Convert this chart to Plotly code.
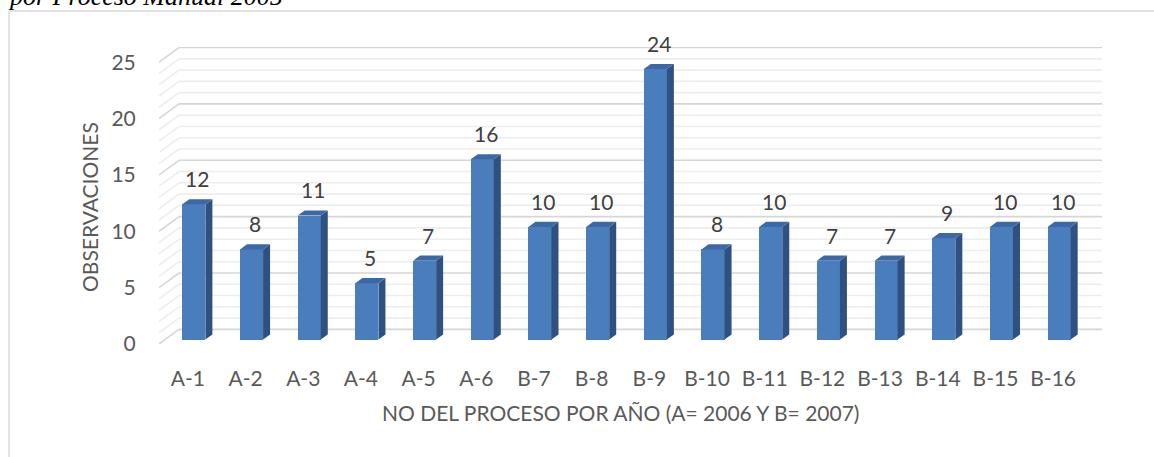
import plotly.graph_objects as go

# Data
categories = ["A-1", "A-2", "A-3", "A-4", "A-5", "A-6", "B-7", "B-8",
              "B-9", "B-10", "B-11", "B-12", "B-13", "B-14", "B-15", "B-16"]
observaciones = [12, 8, 11, 5, 7, 16, 10, 10, 24, 8, 10, 7, 7, 9, 10, 10]
y_ticks = [0, 5, 10, 15, 20, 25]

x_title = "NO DEL PROCESO POR AÑO (A= 2006 Y B= 2007)"
y_title = "OBSERVACIONES"
caption = "por Proceso Manual 2005"

# Pseudo-3D geometry (in axis units)
DEPTH_X = 0.347      # back wall offset along the category axis
DEPTH_Y = 1.3        # back wall offset along the value axis
BAR_FRONT = 0.30     # depth fraction of bar front face
BAR_DEPTH = 0.35     # depth fraction of bar thickness
BAR_W = 0.40

FONT = "Lato"
front_col = "#4a7dbb"
side_col = "#2f5181"
top_col = "#3c69a6"

n = len(categories)
x_min, x_max = -0.5, n - 0.5 + DEPTH_X
y_max = 26.35

fig = go.Figure()

# Walls: side-wall diagonals and back-wall gridlines
shapes = []
for v in range(0, 26):
    major = v % 5 == 0
    col = "#d6d6d6" if major else "#ededed"
    w = 1.6
    shapes.append(dict(type="line", xref="x", yref="y", layer="below",
                       x0=-0.5, y0=v, x1=-0.5 + DEPTH_X, y1=v + DEPTH_Y,
                       line=dict(color=col, width=w)))
    shapes.append(dict(type="line", xref="x", yref="y", layer="below",
                       x0=-0.5 + DEPTH_X, y0=v + DEPTH_Y, x1=x_max, y1=v + DEPTH_Y,
                       line=dict(color=col, width=w)))

# Chart frame
px_l, px_r, px_t, px_b = 159, 52, 47, 113
pw = 1154 - px_l - px_r
ph = 457 - px_t - px_b


def paper_x(px):
    return (px - px_l) / pw


def paper_y(py):
    return 1 + (px_t - py) / ph


shapes.append(dict(type="line", xref="paper", yref="paper",
                   x0=paper_x(9), y0=paper_y(11), x1=paper_x(1160), y1=paper_y(11),
                   line=dict(color="#d9d9d9", width=1.5)))
shapes.append(dict(type="line", xref="paper", yref="paper",
                   x0=paper_x(9), y0=paper_y(11), x1=paper_x(9), y1=paper_y(470),
                   line=dict(color="#d9d9d9", width=1.5)))

# Bars
base = BAR_FRONT * DEPTH_Y
dx = BAR_DEPTH * DEPTH_X
dy = BAR_DEPTH * DEPTH_Y
centers = [i + BAR_FRONT * DEPTH_X for i in range(n)]

side_x, side_y, top_x, top_y = [], [], [], []
for c, v in zip(centers, observaciones):
    xl, xr = c - BAR_W / 2, c + BAR_W / 2
    side_x += [xr, xr + dx, xr + dx, xr, xr, None]
    side_y += [base, base + dy, base + v + dy, base + v, base, None]
    top_x += [xl, xr, xr + dx, xl + dx, xl, None]
    top_y += [base + v, base + v, base + v + dy, base + v + dy, base + v, None]

fig.add_trace(go.Scatter(x=side_x, y=side_y, mode="lines", fill="toself",
                         fillcolor=side_col, line=dict(width=0, color=side_col),
                         hoverinfo="skip", showlegend=False))
fig.add_trace(go.Scatter(x=top_x, y=top_y, mode="lines", fill="toself",
                         fillcolor=top_col, line=dict(width=0, color=top_col),
                         hoverinfo="skip", showlegend=False))
fig.add_trace(go.Bar(x=centers, y=observaciones, base=base, width=BAR_W,
                     marker=dict(color=front_col, line=dict(width=0)),
                     showlegend=False))

# Value labels
annotations = []
for c, v in zip(centers, observaciones):
    annotations.append(dict(x=c + dx / 2, y=base + v + dy, xref="x", yref="y",
                            text=str(v), showarrow=False, yanchor="bottom",
                            yshift=6, font=dict(family=FONT, size=21, color="#404040")))

# Axis titles and caption
annotations.append(dict(x=paper_x(620), y=paper_y(412), xref="paper", yref="paper",
                        text=x_title, showarrow=False, xanchor="center", yanchor="middle",
                        font=dict(family=FONT, size=21, color="#595959")))
annotations.append(dict(x=paper_x(89), y=paper_y(207), xref="paper", yref="paper",
                        text=y_title, showarrow=False, textangle=-90,
                        xanchor="center", yanchor="middle",
                        font=dict(family=FONT, size=21, color="#595959")))
annotations.append(dict(x=paper_x(6), y=paper_y(-4), xref="paper", yref="paper",
                        text="<i>" + caption + "</i>", showarrow=False,
                        xanchor="left", yanchor="middle",
                        font=dict(family="Liberation Serif", size=26, color="#000000")))

fig.update_layout(
    width=1154, height=457,
    margin=dict(l=px_l, r=px_r, t=px_t, b=px_b, autoexpand=False),
    paper_bgcolor="white", plot_bgcolor="white",
    shapes=shapes, annotations=annotations,
    bargap=0,
    xaxis=dict(range=[x_min, x_max], tickmode="array",
               tickvals=list(range(n)), ticktext=categories,
               showgrid=False, zeroline=False, showline=False,
               ticks="outside", ticklen=16, tickcolor="rgba(0,0,0,0)",
               tickfont=dict(family=FONT, size=21, color="#595959"),
               fixedrange=True),
    yaxis=dict(range=[0, y_max], tickmode="array", tickvals=y_ticks,
               showgrid=False, zeroline=False, showline=False,
               ticks="outside", ticklen=18, tickcolor="rgba(0,0,0,0)",
               tickfont=dict(family=FONT, size=21, color="#595959"),
               fixedrange=True),
)

fig.write_html("out.html")
